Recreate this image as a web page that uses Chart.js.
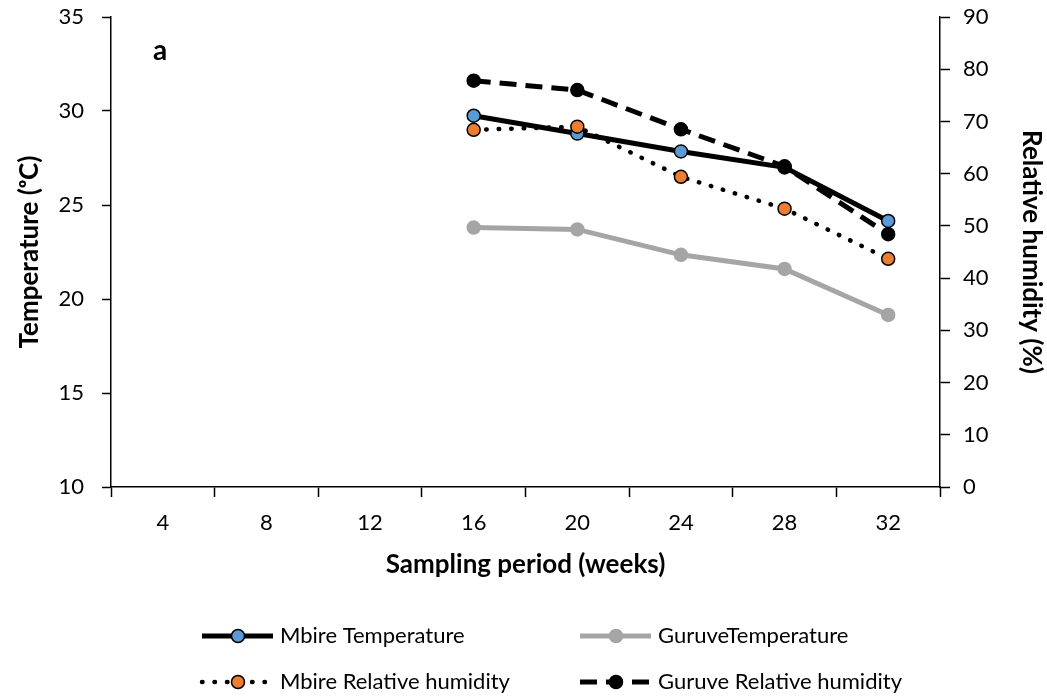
<!DOCTYPE html>
<html>
<head>
<meta charset="utf-8">
<script src="https://cdn.jsdelivr.net/npm/chart.js@4.4.1/dist/chart.umd.min.js"></script>
<style>
  html, body { margin: 0; padding: 0; background: #fff; }
  #wrap { width: 1047px; height: 696px; }
</style>
</head>
<body>
<div id="wrap"><canvas id="chart" width="1047" height="696"></canvas></div>
<script>
// ---- data ----
const weeks = ["4", "8", "12", "16", "20", "24", "28", "32"];
const mbireTemp  = [null, null, null, 29.75, 28.8, 27.85, 27.0, 24.15];
const guruveTemp = [null, null, null, 23.8, 23.7, 22.35, 21.6, 19.15];
const mbireRH    = [null, null, null, 68.4, 69.0, 59.4, 53.3, 43.7];
const guruveRH   = [null, null, null, 77.8, 76.0, 68.5, 61.4, 48.4];

const tempTicks = [10, 35, 5];   // min, max, step
const rhTicks = [0, 90, 10];

const FONT = "Lato, 'Open Sans', 'Liberation Sans', sans-serif";
const GREY = "#A5A5A5";

// legend entries, in the order they appear in the figure
const legendItems = [
  { label: "Mbire Temperature", color: "#000", width: 5, dash: [], cap: "butt", fill: "#5B9BD5", stroke: "#000" },
  { label: "GuruveTemperature", color: GREY, width: 5, dash: [], cap: "butt", fill: GREY, stroke: GREY },
  { label: "Mbire Relative humidity", color: "#000", width: 4.5, dash: [0.5, 12], cap: "round", fill: "#ED7D31", stroke: "#000" },
  { label: "Guruve Relative humidity", color: "#000", width: 5, dash: [17, 9], cap: "butt", fill: "#000", stroke: "#000" },
];

// panel letter + custom legend
const extras = {
  id: "extras",
  afterDraw(chart) {
    const ctx = chart.ctx;
    const area = chart.chartArea;
    ctx.save();
    ctx.fillStyle = "#000";
    ctx.font = "bold 28px " + FONT;
    ctx.textBaseline = "middle";
    ctx.textAlign = "center";
    ctx.fillText("a", area.left + 49, area.top + 34);
    ctx.textAlign = "left";

    const rows = [636, 682];
    const cols = [202, 580];
    legendItems.forEach((it, i) => {
      const x = cols[i % 2], y = rows[Math.floor(i / 2)];
      ctx.beginPath();
      ctx.strokeStyle = it.color;
      ctx.lineWidth = it.width;
      ctx.lineCap = it.cap;
      ctx.setLineDash(it.dash);
      ctx.moveTo(x, y);
      ctx.lineTo(x + 71, y);
      ctx.stroke();
      ctx.setLineDash([]);
      ctx.beginPath();
      ctx.arc(x + 36, y, 6.5, 0, Math.PI * 2);
      ctx.fillStyle = it.fill;
      ctx.fill();
      ctx.lineWidth = 1.5;
      ctx.strokeStyle = it.stroke;
      ctx.stroke();
      ctx.fillStyle = "#000";
      ctx.font = "22px " + FONT;
      ctx.textBaseline = "middle";
      ctx.fillText(it.label, x + 78, y);
    });
    ctx.restore();
  }
};

const tickFont = { family: FONT, size: 22 };
const titleFont = { family: FONT, size: 26, weight: "bold" };

// fixed axis box sizes so the plot area sits where it does in the figure
function fixY(width) {
  return (s) => { s.width = width; s.paddingTop = 0; s.paddingBottom = 0; };
}

new Chart(document.getElementById("chart"), {
  type: "line",
  data: {
    labels: weeks,
    datasets: [
      {
        label: legendItems[0].label, data: mbireTemp, yAxisID: "yT", order: 3,
        borderColor: "#000", borderWidth: 5,
        pointRadius: 6.5, pointBackgroundColor: "#5B9BD5", pointBorderColor: "#000", pointBorderWidth: 1.5,
      },
      {
        label: legendItems[1].label, data: guruveTemp, yAxisID: "yT", order: 2,
        borderColor: GREY, borderWidth: 5,
        pointRadius: 6.5, pointBackgroundColor: GREY, pointBorderColor: GREY, pointBorderWidth: 1.5,
      },
      {
        label: legendItems[2].label, data: mbireRH, yAxisID: "yH", order: 1,
        borderColor: "#000", borderWidth: 4.5, borderDash: [0.5, 12], borderCapStyle: "round",
        pointRadius: 6.5, pointBackgroundColor: "#ED7D31", pointBorderColor: "#000", pointBorderWidth: 1.5,
      },
      {
        label: legendItems[3].label, data: guruveRH, yAxisID: "yH", order: 0,
        borderColor: "#000", borderWidth: 5, borderDash: [17, 9],
        pointRadius: 6.5, pointBackgroundColor: "#000", pointBorderColor: "#000", pointBorderWidth: 1.5,
      },
    ],
  },
  options: {
    responsive: false,
    animation: false,
    layout: { padding: { top: 17, left: 0, right: 0, bottom: 114 } },
    plugins: { legend: { display: false }, tooltip: { enabled: false } },
    scales: {
      x: {
        offset: true,
        grid: { offset: true, drawOnChartArea: false, tickLength: 10, tickColor: "#000", tickWidth: 1.5 },
        border: { color: "#000", width: 1.5 },
        ticks: { color: "#000", font: tickFont, padding: 13, maxRotation: 0, autoSkip: false },
        title: { display: true, text: "Sampling period (weeks)", color: "#000", font: titleFont, padding: { top: 0, bottom: 2 } },
        afterFit(s) { s.height = 95; s.paddingLeft = 0; s.paddingRight = 0; },
      },
      yT: {
        position: "left",
        min: tempTicks[0], max: tempTicks[1],
        grid: { drawOnChartArea: false, tickLength: 9, tickColor: "#000", tickWidth: 1.5 },
        border: { color: "#000", width: 1.5 },
        ticks: { stepSize: tempTicks[2], color: "#000", font: tickFont, padding: 18 },
        title: { display: true, text: "Temperature (ᵒC)", color: "#000", font: titleFont, padding: { top: 14, bottom: 0 } },
        afterFit: fixY(111),
      },
      yH: {
        position: "right",
        min: rhTicks[0], max: rhTicks[1],
        grid: { drawOnChartArea: false, tickLength: 10, tickColor: "#000", tickWidth: 1.5 },
        border: { color: "#000", width: 1.5 },
        ticks: { stepSize: rhTicks[2], color: "#000", font: tickFont, padding: 13 },
        title: { display: true, text: "Relative humidity (%)", color: "#000", font: titleFont, padding: { top: 0, bottom: 0 } },
        afterFit: fixY(107),
      },
    },
  },
  plugins: [extras],
});
</script>
</body>
</html>
